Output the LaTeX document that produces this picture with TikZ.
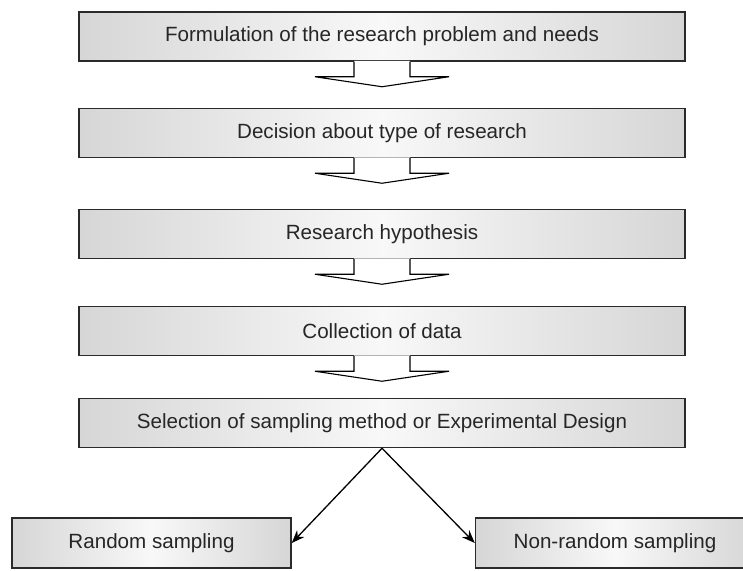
\documentclass[tikz,border=0pt]{standalone}
\usepackage{fontspec}
\setmainfont{Liberation Sans}
\usetikzlibrary{arrows.meta}
\definecolor{boxline}{HTML}{2A2A2A}
\definecolor{boxside}{HTML}{D6D6D6}
\definecolor{boxmid}{HTML}{F8F8F8}
\definecolor{textgray}{HTML}{262626}
\tikzset{
	stage/.style={draw=boxline,line width=1.5pt,left color=boxside,right color=boxside,middle color=boxmid,
		minimum width=606pt,minimum height=49pt,inner sep=0pt,text=textgray,
		font=\fontsize{20.6}{24}\selectfont},
	branch/.style={stage,minimum width=279pt,minimum height=50pt},
	blockarrow/.style={line width=1.1pt,black,line join=miter},
	splitarrow/.style={line width=1.3pt,black,-{Stealth[length=13pt,width=10pt]}}
}
\begin{document}
\begin{tikzpicture}[x=1pt,y=1pt]
	\useasboundingbox (0,0) rectangle (743,570);
	
	\node[stage] (formul) at (382,533.5){Formulation of the research problem and needs};
	\node[stage] (decis) at (382,437){Decision about type of research};
	\node[stage] (hypo) at (382,336){Research hypothesis};
	\node[stage] (collect) at (382,239){Collection of data};
	\node[stage] (select) at (382,147){Selection of sampling method or Experimental Design};
	\node[branch] (rand) at (151.5,27){Random sampling};
	\node[branch] (nonrand) at (615,27){Non-random sampling};
	
	\fill[white,shift={(formul.south)}](-28,0.9)--(-28,-15)--(-67,-15)--(0,-25)--(67,-15)--(28,-15)--(28,0.9)--cycle;
	\draw[blockarrow,shift={(formul.south)}](-28,0)--(-28,-15)--(-67,-15)--(0,-25)--(67,-15)--(28,-15)--(28,0);
	\fill[white,shift={(decis.south)}](-28,0.9)--(-28,-15)--(-67,-15)--(0,-25)--(67,-15)--(28,-15)--(28,0.9)--cycle;
	\draw[blockarrow,shift={(decis.south)}](-28,0)--(-28,-15)--(-67,-15)--(0,-25)--(67,-15)--(28,-15)--(28,0);
	\fill[white,shift={(hypo.south)}](-28,0.9)--(-28,-15)--(-67,-15)--(0,-25)--(67,-15)--(28,-15)--(28,0.9)--cycle;
	\draw[blockarrow,shift={(hypo.south)}](-28,0)--(-28,-15)--(-67,-15)--(0,-25)--(67,-15)--(28,-15)--(28,0);
	\fill[white,shift={(collect.south)}](-28,0.9)--(-28,-15)--(-67,-15)--(0,-25)--(67,-15)--(28,-15)--(28,0.9)--cycle;
	\draw[blockarrow,shift={(collect.south)}](-28,0)--(-28,-15)--(-67,-15)--(0,-25)--(67,-15)--(28,-15)--(28,0);
	
	\draw[splitarrow](select.south)--(rand.east);
	\draw[splitarrow](select.south)--(nonrand.west);
\end{tikzpicture}
\end{document}
